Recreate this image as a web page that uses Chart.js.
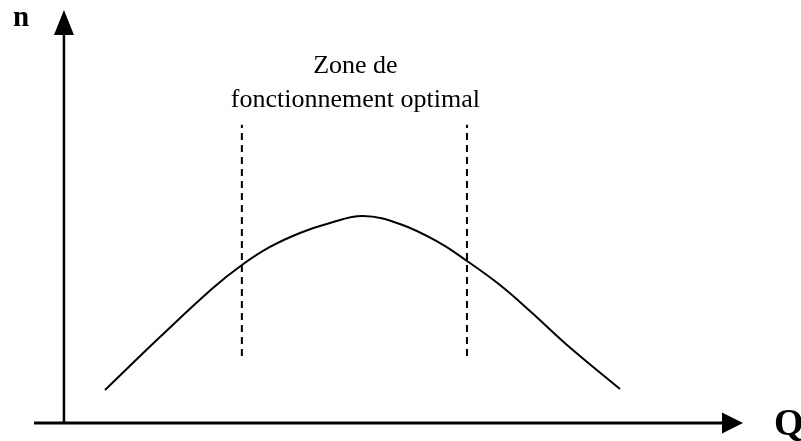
<!DOCTYPE html>
<html>
<head>
<meta charset="utf-8">
<script src="https://cdn.jsdelivr.net/npm/chart.js@4/dist/chart.umd.min.js"></script>
<style>
  html, body { margin: 0; padding: 0; background: #fff; }
  #c { display: block; }
</style>
</head>
<body>
<canvas id="c" width="801" height="441"></canvas>
<script>
// ---- data ----
const qValues = [6.04, 14.14, 21.94, 26.21, 30.34, 34.76, 39.18, 44.04, 49.48, 55.38, 59.35, 64.21, 68.63, 74.08, 81.89];
const nValues = [7.99, 20.82, 32.69, 38.26, 42.62, 46.00, 48.43, 50.12, 48.18, 43.58, 39.23, 33.41, 27.12, 18.89, 8.23];
const zoneBounds = [26.2, 59.35];          // Q of the two dashed lines
const zoneSpan = [16.2, 72.2];             // n extent of the dashed lines
const zoneLabel = ["Zone de", "fonctionnement optimal"];
const axisLabels = ["n", "Q"];
const axisX = [-4.4, 100];                 // Q extent of horizontal axis
const axisY = [0, 100];                    // n extent of vertical axis

const curve = qValues.map((q, i) => ({ x: q, y: nValues[i] }));
const dashed = zoneBounds.map(q => [{ x: q, y: zoneSpan[0] }, { x: q, y: zoneSpan[1] }]);

const SERIF = "'Liberation Serif', 'Times New Roman', serif";

const decorPlugin = {
  id: 'decor',
  afterDatasetsDraw(chart) {
    const ctx = chart.ctx;
    const xs = chart.scales.x, ys = chart.scales.y;
    const x0 = xs.getPixelForValue(0), y0 = ys.getPixelForValue(0);
    ctx.save();
    ctx.strokeStyle = '#000';
    ctx.fillStyle = '#000';
    ctx.lineCap = 'butt';
    // horizontal axis
    const xa = xs.getPixelForValue(axisX[0]), xb = xs.getPixelForValue(axisX[1]);
    ctx.lineWidth = 3;
    ctx.beginPath(); ctx.moveTo(xa, y0); ctx.lineTo(xb - 18, y0); ctx.stroke();
    ctx.beginPath();
    ctx.moveTo(xb, y0); ctx.lineTo(xb - 21, y0 - 10.5); ctx.lineTo(xb - 21, y0 + 10.5); ctx.closePath(); ctx.fill();
    // vertical axis
    const ya = ys.getPixelForValue(axisY[0]), yb = ys.getPixelForValue(axisY[1]);
    ctx.lineWidth = 2.5;
    ctx.beginPath(); ctx.moveTo(x0, ya); ctx.lineTo(x0, yb + 22); ctx.stroke();
    ctx.beginPath();
    ctx.moveTo(x0, yb); ctx.lineTo(x0 - 10, yb + 25); ctx.lineTo(x0 + 10, yb + 25); ctx.closePath(); ctx.fill();
    // zone label
    const zc = xs.getPixelForValue((zoneBounds[0] + zoneBounds[1]) / 2) + 1;
    ctx.font = '26px ' + SERIF;
    ctx.textAlign = 'center';
    ctx.textBaseline = 'alphabetic';
    ctx.fillText(zoneLabel[0], zc, ys.getPixelForValue(84.7));
    ctx.fillText(zoneLabel[1], zc, ys.getPixelForValue(76.5));
    // axis labels
    ctx.textAlign = 'left';
    ctx.font = 'bold 29px ' + SERIF;
    ctx.fillText(axisLabels[0], x0 - 51, yb + 16);
    ctx.font = 'bold 38px ' + SERIF;
    ctx.fillText(axisLabels[1], xb + 31, y0 + 12);
    ctx.restore();
  }
};

new Chart(document.getElementById('c'), {
  type: 'scatter',
  data: {
    datasets: [
      { data: curve, showLine: true, borderColor: '#000', borderWidth: 2, pointRadius: 0,
        tension: 0.4, fill: false },
      { data: dashed[0], showLine: true, borderColor: '#000', borderWidth: 2, borderDash: [7, 5],
        pointRadius: 0, fill: false },
      { data: dashed[1], showLine: true, borderColor: '#000', borderWidth: 2, borderDash: [7, 5],
        pointRadius: 0, fill: false }
    ]
  },
  options: {
    responsive: false,
    devicePixelRatio: 1,
    animation: false,
    layout: { padding: { left: 30, right: 58, top: 10, bottom: 18 } },
    plugins: { legend: { display: false }, tooltip: { enabled: false } },
    scales: {
      x: { type: 'linear', display: false, min: -5, max: 100 },
      y: { type: 'linear', display: false, min: 0, max: 100 }
    }
  },
  plugins: [decorPlugin]
});
</script>
</body>
</html>
